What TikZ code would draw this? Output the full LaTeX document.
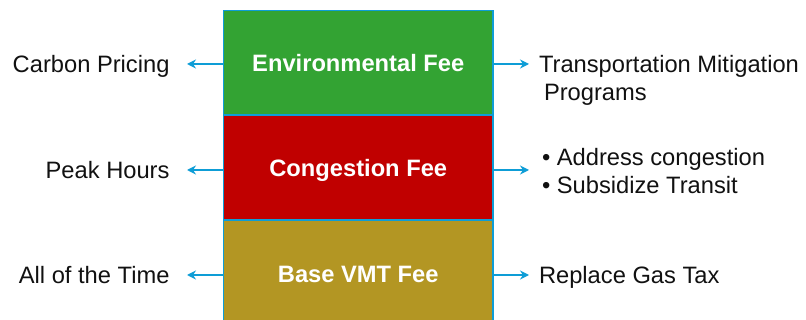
\documentclass[tikz,border=0pt]{standalone}
\usepackage{fontspec}
\setmainfont{Liberation Sans}
\usetikzlibrary{arrows.meta}
\definecolor{envgreen}{RGB}{51,163,51}
\definecolor{congred}{RGB}{192,0,0}
\definecolor{basegold}{RGB}{179,150,35}
\definecolor{edgeblue}{RGB}{14,157,214}
\definecolor{txt}{RGB}{17,17,17}
\tikzset{
  feebox/.style={draw=edgeblue, line width=1.5pt, minimum width=269.5pt, inner sep=0pt,
    text=white, font=\fontsize{23.7}{28}\selectfont\bfseries, text height=17.2pt, text depth=0pt},
  leftlab/.style={anchor=east, inner sep=0pt, outer xsep=17.5pt, outer ysep=0pt, text=txt,
    font=\fontsize{23.7}{28}\selectfont, text height=17.2pt, text depth=0pt},
  rightlab/.style={anchor=north west, inner sep=0pt, outer xsep=10pt, outer ysep=0pt, text=txt,
    align=left, font=\fontsize{23.7}{28.2}\selectfont},
  arr/.style={draw=edgeblue, line width=2.6pt, -{Stealth[length=9pt,width=9pt,inset=3pt]}}
}
\begin{document}
\begin{tikzpicture}[x=1pt,y=-1pt]
\useasboundingbox (0,0) rectangle (806,320);
\node[feebox, fill=envgreen, minimum height=104.5pt] (env) at (358.25,62.75) {Environmental Fee};
\node[feebox, fill=congred, minimum height=105pt] (cong) at (358.25,167.5) {Congestion Fee};
\node[feebox, fill=basegold, minimum height=108pt] (base) at (358.25,274) {Base VMT Fee};
% left labels
\node[leftlab] (cp) at (187,64) {Carbon Pricing};
\node[leftlab] (ph) at (187,170) {Peak Hours};
\node[leftlab] (at) at (187,275) {All of the Time};
% right labels
\node[rightlab] (tm) at (529,55.5) {Transportation Mitigation\\\hspace*{5pt}Programs};
\node[rightlab] (ac) at (529,148) {\hspace*{3pt}• Address congestion\\\hspace*{3pt}• Subsidize Transit};
\node[rightlab, anchor=west, text height=17.2pt, text depth=0pt] (rg) at (529,275) {Replace Gas Tax};
% arrows
\draw[arr] (env.west |- cp.east) -- (cp.east);
\draw[arr] (cong.west |- ph.east) -- (ph.east);
\draw[arr] (base.west |- at.east) -- (at.east);
\draw[arr] (env.east |- cp.east) -- (tm.west |- cp.east);
\draw[arr] (cong.east |- ph.east) -- (ac.west |- ph.east);
\draw[arr] (base.east |- rg.west) -- (rg.west);
\end{tikzpicture}
\end{document}
